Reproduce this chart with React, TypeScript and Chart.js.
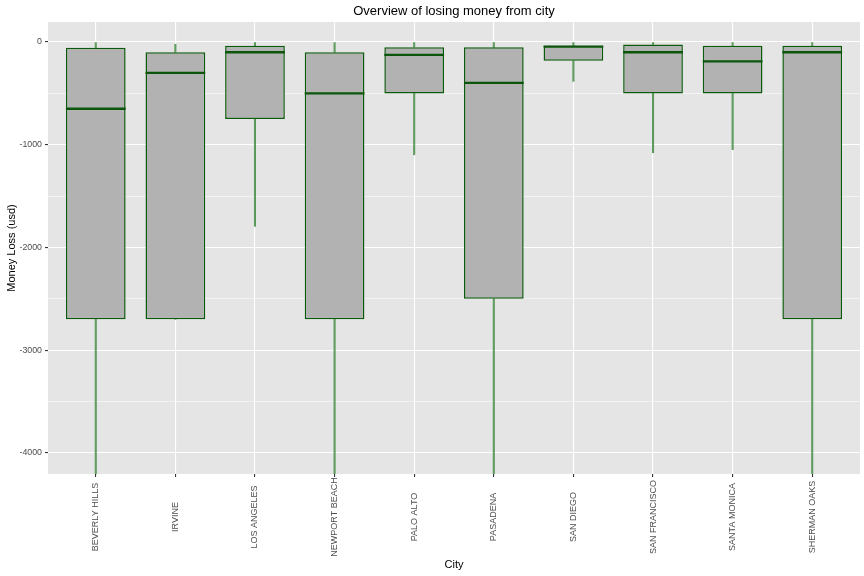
import React, { useEffect, useRef } from "react";
import { Chart, registerables } from "chart.js";

Chart.register(...registerables);

const cities = [
  "BEVERLY HILLS",
  "IRVINE",
  "LOS ANGELES",
  "NEWPORT BEACH",
  "PALO ALTO",
  "PASADENA",
  "SAN DIEGO",
  "SAN FRANCISCO",
  "SANTA MONICA",
  "SHERMAN OAKS",
];
const boxLow = [-2700, -2700, -750, -2700, -500, -2500, -182, -500, -500, -2700];
const boxHigh = [-55, -100, -36, -100, -50, -52, -36, -24, -36, -36];
const medians = [-650, -300, -100, -500, -125, -398, -45, -100, -188, -100];
const whiskerLow = [-4300, -2700, -1795, -4300, -1098, -4300, -383, -1078, -1048, -4300];
const whiskerHigh = [0, -22, 0, 0, 0, 0, 0, 0, 0, 0];
const yTickValues = [0, -500, -1000, -1500, -2000, -2500, -3000, -3500, -4000];
const yMin = -4206;
const yMax = 195;
const chartTitle = "Overview of losing money from city";
const yTitle = "Money Loss (usd)";
const xTitle = "City";

const FONT = "'Liberation Sans', Arial, Helvetica, sans-serif";
const GREEN = "#0b5a0b";

export default function App() {
  const ref = useRef<HTMLCanvasElement>(null);

  useEffect(() => {
    if (!ref.current) return;

    const panelPlugin = {
      id: "ggpanel",
      beforeDraw(chart: any) {
        const { ctx, chartArea } = chart;
        ctx.save();
        ctx.fillStyle = "#ffffff";
        ctx.fillRect(0, 0, chart.width, chart.height);
        ctx.fillStyle = "#e5e5e5";
        ctx.fillRect(chartArea.left, chartArea.top, chartArea.right - chartArea.left, chartArea.bottom - chartArea.top);
        ctx.restore();
      },
      afterDatasetsDraw(chart: any) {
        const { ctx, chartArea } = chart;
        const meta = chart.getDatasetMeta(0);
        const yScale = chart.scales.y;
        ctx.save();
        ctx.beginPath();
        ctx.rect(chartArea.left, chartArea.top, chartArea.right - chartArea.left, chartArea.bottom - chartArea.top);
        ctx.clip();
        ctx.strokeStyle = "#0b560b";
        ctx.lineWidth = 2.4;
        meta.data.forEach((bar: any, i: number) => {
          const { x, width } = bar.getProps(["x", "width"], true);
          const y = yScale.getPixelForValue(medians[i]);
          ctx.beginPath();
          ctx.moveTo(x - width / 2, y);
          ctx.lineTo(x + width / 2, y);
          ctx.stroke();
        });
        ctx.restore();
      },
      afterDraw(chart: any) {
        const { ctx, chartArea } = chart;
        const xScale = chart.scales.x;
        ctx.save();
        ctx.fillStyle = "#000000";
        ctx.font = `13px ${FONT}`;
        ctx.textAlign = "center";
        ctx.textBaseline = "middle";
        ctx.fillText(chartTitle, (chartArea.left + chartArea.right) / 2, 11);
        ctx.restore();

        // x tick labels, rotated 90° and centred in the label band (ggplot style)
        const labelCenterY = chartArea.bottom + 43;
        ctx.save();
        ctx.fillStyle = "#4d4d4d";
        ctx.font = `9px ${FONT}`;
        ctx.textAlign = "center";
        ctx.textBaseline = "middle";
        cities.forEach((name, i) => {
          const x = xScale.getPixelForValue(i);
          ctx.save();
          ctx.translate(x, labelCenterY);
          ctx.rotate(-Math.PI / 2);
          ctx.fillText(name, 0, 0);
          ctx.restore();
        });
        ctx.restore();
      },
    };

    const xs = cities.map((_, i) => i);

    const chart = new Chart(ref.current, {
      type: "bar",
      data: {
        datasets: [
          {
            label: "box",
            data: xs.map((i) => ({ x: i, y: [boxLow[i], boxHigh[i]] })) as any,
            backgroundColor: "#b2b2b2",
            borderColor: GREEN,
            borderWidth: 1.5,
            borderSkipped: false,
            barPercentage: 0.75,
            categoryPercentage: 1,
            grouped: false,
          } as any,
          {
            label: "lower whisker",
            data: xs.map((i) => ({ x: i, y: [whiskerLow[i], boxLow[i]] })) as any,
            backgroundColor: "rgba(0,100,0,0.62)",
            borderWidth: 0,
            barThickness: 1.4,
            grouped: false,
          } as any,
          {
            label: "upper whisker",
            data: xs.map((i) => ({ x: i, y: [boxHigh[i], whiskerHigh[i]] })) as any,
            backgroundColor: "rgba(0,100,0,0.62)",
            borderWidth: 0,
            barThickness: 1.4,
            grouped: false,
          } as any,
        ],
      },
      options: {
        responsive: false,
        animation: false,
        layout: { padding: { left: 0, right: 4, top: 22, bottom: 0 } },
        plugins: {
          legend: { display: false },
          tooltip: { enabled: false },
          title: { display: false },
        },
        scales: {
          x: {
            type: "linear",
            offset: false,
            min: -0.6,
            max: 9.6,
            afterBuildTicks: (scale: any) => {
              scale.ticks = xs.map((v) => ({ value: v }));
            },
            afterFit: (scale: any) => {
              scale.height = 102;
            },
            ticks: {
              display: false,
              autoSkip: false,
            },
            grid: {
              offset: false,
              color: "#ffffff",
              lineWidth: 1.1,
              tickColor: "#333333",
              tickLength: 3,
              drawTicks: true,
            },
            border: { display: false },
            title: {
              display: true,
              text: xTitle,
              color: "#000000",
              font: { family: FONT, size: 11 },
              padding: { top: 0, bottom: 4 },
            },
          },
          y: {
            type: "linear",
            min: yMin,
            max: yMax,
            afterBuildTicks: (scale: any) => {
              scale.ticks = yTickValues.map((v) => ({ value: v }));
            },
            afterFit: (scale: any) => {
              scale.width = 48;
            },
            ticks: {
              padding: 3,
              color: "#4d4d4d",
              font: { family: FONT, size: 8.8 },
              callback: (v: any) => (Number(v) % 1000 === 0 ? String(v) : ""),
            },
            grid: {
              color: "#ffffff",
              lineWidth: (c: any) => (c.tick && c.tick.value % 1000 === 0 ? 1.1 : 0.55),
              tickColor: (c: any) => (c.tick && c.tick.value % 1000 === 0 ? "#333333" : "rgba(0,0,0,0)"),
              tickLength: 3,
              drawTicks: true,
            },
            border: { display: false },
            title: {
              display: true,
              text: yTitle,
              color: "#000000",
              font: { family: FONT, size: 11 },
              padding: { top: 5, bottom: 0 },
            },
          },
        },
      } as any,
      plugins: [panelPlugin],
    });

    return () => chart.destroy();
  }, []);

  return (
    <div style={{ position: "fixed", left: 0, top: 0, width: 864, height: 576, background: "#ffffff" }}>
      <canvas ref={ref} width={864} height={576} style={{ display: "block", width: 864, height: 576 }} />
    </div>
  );
}
